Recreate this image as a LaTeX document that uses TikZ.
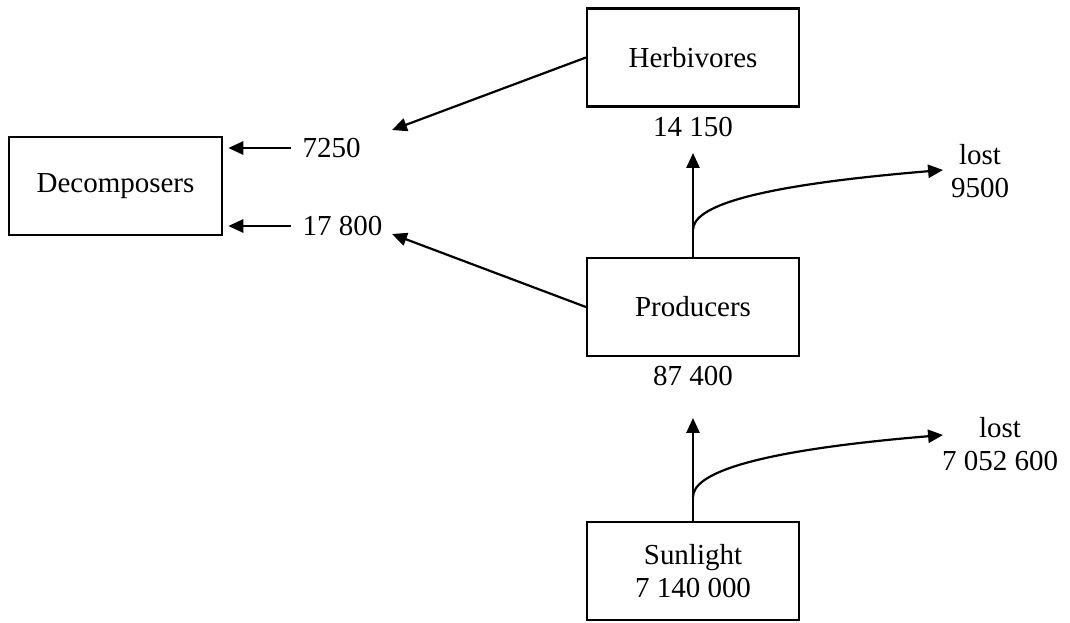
\documentclass[tikz,border=0pt]{standalone}
\usepackage{fontspec}
\setmainfont{Liberation Serif}
\usetikzlibrary{arrows.meta}

\begin{document}
\begin{tikzpicture}[x=0.02cm,y=-0.02cm,line width=1.25pt,
    every node/.style={font=\fontsize{16.5}{18.7}\selectfont},
    level/.style={draw,minimum width=4.24cm,minimum height=1.96cm,align=center},
    amount/.style={inner sep=2pt,align=center},
    flow/.style={-{Triangle[length=8.5pt,width=7.5pt]}}]
    \useasboundingbox (0,0) rectangle (1070,622);
    % boxes
    \node[level] (herb) at (693,57.5) {Herbivores};
    \node[level] (prod) at (693,307) {Producers};
    \node[level] (sun) at (693,571) {Sunlight\\7 140 000};
    \node[level,minimum width=4.26cm] (dec) at (115.5,186) {Decomposers};
    % amounts
    \node[amount] (vherb) at (693,127) {14 150};
    \node[amount] (vprod) at (693,376) {87 400};
    \node[amount,anchor=west] (vdeadherb) at (298,148) {7250};
    \node[amount,anchor=west] (vdeadprod) at (298,226) {17 800};
    \node[amount] (lostprod) at (980,171) {lost\\9500};
    \node[amount] (lostsun) at (1000,444) {lost\\7 052 600};
    % free ends
    \coordinate (herbend) at (392,130);
    \coordinate (prodend) at (392,234);
    \coordinate (upherb) at (693,153);
    \coordinate (upprod) at (693,418);
    \coordinate (splitprod) at (693,230);
    \coordinate (splitsun) at (693,497);
    \coordinate (lostprodend) at (943,170);
    \coordinate (lostsunend) at (943,435);
    % arrows
    \draw[flow] (herb.west) -- (herbend);
    \draw[flow] (prod.west) -- (prodend);
    \draw[flow,shorten <=4pt,shorten >=3pt] (vdeadherb.west) -- (vdeadherb.west -| dec.east);
    \draw[flow,shorten <=4pt,shorten >=3pt] (vdeadprod.west) -- (vdeadprod.west -| dec.east);
    \draw[flow] (prod.north) -- (upherb);
    \draw[flow] (sun.north) -- (upprod);
    \draw[flow] (splitprod) .. controls (693,207) and (750,186) .. (lostprodend);
    \draw[flow] (splitsun) .. controls (693,474) and (750,451) .. (lostsunend);
\end{tikzpicture}
\end{document}
